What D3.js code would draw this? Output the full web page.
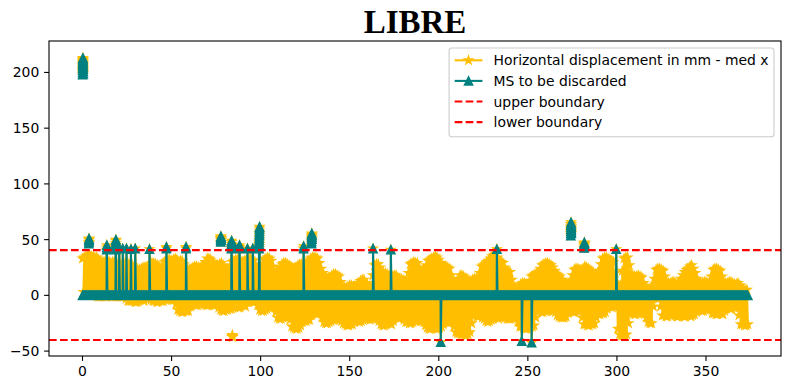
<!DOCTYPE html>
<html><head><meta charset="utf-8">
<script src="https://cdn.jsdelivr.net/npm/d3@7"></script>
<style>body{margin:0;background:#fff} svg{display:block}</style>
</head><body>
<svg id="chart" width="790" height="390"></svg>
<script>
// ---------------- data ----------------
const titleText = "LIBRE";
const seriesNames = ["Horizontal displacement in mm - med x", "MS to be discarded", "upper boundary", "lower boundary"];
const xTicks = [0, 50, 100, 150, 200, 250, 300, 350];
const yTicks = [-50, 0, 50, 100, 150, 200];
const yTickLabels = ["\u221250", "0", "50", "100", "150", "200"];
const upperBoundary = 40.6;
const lowerBoundary = -40.0;

// upper swings of the displacement signal, at x = 0, 1, 2, ... 373
const upperEnv = [
  33,34,35,36,36,35,35,34,34,32,31,30,30,31,31,30,29,30,30,29,
  28,28,27,28,29,29,28,28,27,25,24,23,23,24,25,25,24,26,28,29,
  29,28,27,25,22,26,30,31,32,32,31,32,33,32,30,31,31,28,24,23,
  23,24,25,26,26,25,25,26,27,30,33,33,32,30,28,27,27,28,29,27,
  24,23,23,26,30,31,32,32,31,30,30,31,32,33,33,32,31,28,24,24,
  25,28,32,33,34,33,31,26,21,21,22,25,28,29,29,28,27,25,24,24,
  25,27,28,28,27,28,29,31,33,34,34,34,33,29,24,20,17,16,15,16,
  18,19,19,18,17,12,8,7,7,8,9,9,8,8,9,11,13,14,14,11,
  9,8,8,18,27,28,28,25,21,20,20,19,18,17,17,18,18,16,15,14,
  14,13,13,20,28,29,30,29,29,25,22,22,23,27,31,32,33,34,35,34,
  32,29,27,26,26,25,24,18,13,12,12,15,18,18,17,15,14,13,13,14,
  15,15,14,20,26,27,28,30,31,33,35,36,37,34,31,30,29,25,22,21,
  21,14,8,7,6,8,10,11,11,10,10,13,17,18,19,20,20,24,27,28,
  29,29,28,27,25,22,19,18,17,14,12,11,11,11,12,18,23,24,24,23,
  22,24,26,25,24,22,21,20,19,20,22,28,33,34,34,33,32,31,30,20,
  10,9,9,22,33,34,34,27,19,18,17,17,18,17,16,11,7,6,6,7,
  8,15,23,24,24,23,22,17,12,11,11,12,12,11,10,12,15,18,21,23,
  24,26,27,24,20,15,12,11,11,12,12,11,10,17,23,24,24,23,22,17,
  12,11,11,12,12,11,10,10,11,9,6,5,5,5
];
// lower swings of the displacement signal, at x = 0.5, 1.5, ... 373.5
const lowerEnv = [
  3,3,3,3,2,1,0,0,-1,-1,-1,-1,-1,-1,0,0,-1,-1,-1,-1,
  -1,-1,-1,-1,-3,-5,-5,-5,-5,-6,-6,-5,-4,-4,-5,-3,-3,-3,-4,-5,
  -5,-6,-6,-5,-5,-5,-4,-4,-3,-3,-4,-4,-8,-13,-14,-15,-15,-14,-14,-14,
  -10,-8,-8,-9,-9,-8,-7,-7,-8,-9,-9,-8,-8,-9,-9,-8,-11,-13,-14,-14,
  -13,-13,-12,-12,-11,-10,-10,-11,-11,-9,-8,-10,-6,-5,-5,-6,-6,-5,-9,-13,
  -14,-14,-13,-12,-11,-11,-10,-10,-15,-20,-21,-21,-20,-19,-19,-20,-22,-28,-29,-30,
  -30,-29,-27,-24,-23,-23,-22,-22,-18,-16,-16,-17,-16,-15,-20,-24,-25,-25,-24,-23,
  -22,-22,-21,-21,-22,-23,-25,-26,-27,-27,-26,-26,-24,-23,-23,-24,-23,-22,-21,-21,
  -21,-22,-21,-21,-20,-20,-23,-26,-27,-27,-26,-25,-25,-26,-23,-20,-20,-21,-20,-19,
  -22,-24,-24,-25,-25,-24,-23,-23,-22,-22,-23,-24,-27,-29,-30,-30,-29,-29,-30,-30,
  -29,-28,-26,-24,-24,-25,-24,-23,-28,-33,-34,-34,-35,-35,-36,-36,-35,-33,-25,-18,
  -18,-19,-19,-18,-20,-21,-23,-24,-23,-22,-21,-20,-20,-21,-20,-19,-19,-20,-21,-21,
  -21,-20,-20,-20,-24,-28,-28,-29,-30,-30,-29,-28,-28,-27,-20,-14,-14,-15,-15,-14,
  -14,-13,-13,-14,-14,-15,-18,-19,-20,-20,-20,-19,-16,-14,-14,-15,-15,-14,-14,-13,
  -20,-26,-26,-27,-27,-26,-26,-25,-20,-17,-17,-16,-16,-15,-12,-10,-10,-11,-10,-9,
  -30,-35,-36,-36,-36,-35,-25,-16,-16,-17,-17,-16,-16,-15,-16,-17,-20,-24,-25,-25,
  -10,-2,-3,-3,-10,-18,-18,-19,-19,-18,-18,-17,-17,-19,-19,-18,-18,-19,-19,-18,
  -18,-19,-18,-17,-15,-13,-13,-14,-14,-13,-13,-12,-12,-16,-16,-17,-17,-16,-16,-17,
  -14,-11,-11,-12,-12,-11,-11,-10,-18,-26,-26,-27,-27,-26
];
// outlier runs joined to the signal
const spikeX = [13.6, 18.6, 20.6, 22.6, 24.7, 27.2, 29.6, 37.6, 47.1, 58.1, 83.6, 88.1, 92.6, 95.6, 99.1, 124.1, 163.1, 173.1, 201.1, 232.6, 246.6, 252.1, 299.6];
const spikeV = [
  [41,43,45],[41,43,45,47,49,50],[42],[42],[42],[41.5],[42],[41.5],[42,43.5],[42,43.5],
  [42,44,46,48,49],[42,43.5,45],[42],[42],[42,44,46,48,50,52,54,56,58,60,61.5],[42,44],
  [42],[41],[-42],[41.5],[-41],[-42.5],[41.5]
];
// isolated runs (separated from the signal by gaps)
const clusterX = [0.05, 3.6, 77.6, 128.6, 274.1, 281.6, 84.1];
const clusterV = [
  [198,200,202,204,206,208,210,212,213,211,209,207,205,203,201,199],
  [46.5,48,49.5,51,50,48],
  [48,49.5,51,52.5,53,51.5,50],
  [46.5,48.5,50.5,52.5,54.5,55.5,53.5,51],
  [53.5,55.5,57.5,59.5,61.5,63.5,65.5,64,62,60,58,56],
  [42.5,44,45.5,47,47.5,46],
  [-35.5,-36.5,-37.5,-37]
];

// ---------------- build ----------------
const W = 790, H = 390;
const L = 49, R = 781, T = 41, B = 356;
const svg = d3.select("#chart");
const x = d3.scaleLinear().domain([-18.8, 392.1]).range([L, R]);
const y = d3.scaleLinear().domain([-54.4, 228.2]).range([B, T]);

const YEL = "#FFBF00", TEAL = "#008080", RED = "#FF0000";
const MS = 4.17, MEW = 1.39, LW = 2.08;

const pts = [];
upperEnv.forEach((v, i) => pts.push({x: i, v, g: 0}));
lowerEnv.forEach((v, i) => pts.push({x: i + 0.5, v, g: 0}));
spikeX.forEach((sx, k) => spikeV[k].forEach((v, j) => pts.push({x: sx + 0.03 * j, v, g: 0})));
clusterX.forEach((cx, k) => clusterV[k].forEach((v, j) => pts.push({x: cx + 0.025 * j, v, g: k + 1})));
pts.sort((a, b) => a.x - b.x);
const seq = [];
let prevG = null;
pts.forEach(p => { if (prevG !== null && p.g !== prevG) seq.push(null); seq.push(p); prevG = p.g; });
const discarded = v => (v > upperBoundary || v < lowerBoundary);

function starPath(cx, cy, r0) {
  const ri = r0 * 0.381966; let d = "";
  for (let k = 0; k < 10; k++) {
    const a = -Math.PI / 2 + k * Math.PI / 5, rr = k % 2 === 0 ? r0 : ri;
    d += (k ? "L" : "M") + (cx + rr * Math.cos(a)).toFixed(2) + "," + (cy + rr * Math.sin(a)).toFixed(2);
  }
  return d + "Z";
}
function triPath(cx, cy, r0) {
  return `M${cx.toFixed(2)},${(cy - r0).toFixed(2)}L${(cx - r0).toFixed(2)},${(cy + r0).toFixed(2)}L${(cx + r0).toFixed(2)},${(cy + r0).toFixed(2)}Z`;
}

svg.append("rect").attr("width", W).attr("height", H).attr("fill", "#fff");
svg.append("defs").append("clipPath").attr("id", "clip")
  .append("rect").attr("x", L).attr("y", T).attr("width", R - L).attr("height", B - T);
const plot = svg.append("g").attr("clip-path", "url(#clip)");

const lineY = d3.line().defined(d => d !== null).x(d => x(d.x)).y(d => y(d.v));
const lineT = d3.line().defined(d => d !== null).x(d => x(d.x)).y(d => y(discarded(d.v) ? d.v : 0));

// yellow series
plot.append("path").attr("d", lineY(seq)).attr("fill", "none").attr("stroke", YEL)
  .attr("stroke-width", LW).attr("stroke-linejoin", "round");
plot.append("path").attr("d", pts.map(p => starPath(x(p.x), y(p.v), MS)).join(""))
  .attr("fill", YEL).attr("stroke", YEL).attr("stroke-width", MEW);
// teal series
plot.append("path").attr("d", lineT(seq)).attr("fill", "none").attr("stroke", TEAL)
  .attr("stroke-width", LW).attr("stroke-linejoin", "round");
plot.append("path").attr("d", pts.map(p => triPath(x(p.x), y(discarded(p.v) ? p.v : 0), MS)).join(""))
  .attr("fill", TEAL).attr("stroke", TEAL).attr("stroke-width", MEW);
// boundaries
[upperBoundary, lowerBoundary].forEach(b => {
  plot.append("line").attr("x1", L).attr("x2", R).attr("y1", y(b)).attr("y2", y(b))
    .attr("stroke", RED).attr("stroke-width", LW).attr("stroke-dasharray", "7.7,3.3");
});

// axes
const ax = svg.append("g");
ax.append("rect").attr("x", L).attr("y", T).attr("width", R - L).attr("height", B - T)
  .attr("fill", "none").attr("stroke", "#000").attr("stroke-width", 1.1);
xTicks.forEach(t => {
  ax.append("line").attr("x1", x(t)).attr("x2", x(t)).attr("y1", B).attr("y2", B + 4.9)
    .attr("stroke", "#000").attr("stroke-width", 1.1);
  ax.append("text").attr("x", x(t)).attr("y", B + 20).attr("text-anchor", "middle")
    .attr("font-family", "DejaVu Sans").attr("font-size", 13.9).text(String(t));
});
yTicks.forEach((t, i) => {
  ax.append("line").attr("x1", L - 4.9).attr("x2", L).attr("y1", y(t)).attr("y2", y(t))
    .attr("stroke", "#000").attr("stroke-width", 1.1);
  ax.append("text").attr("x", L - 9.7).attr("y", y(t) + 5).attr("text-anchor", "end")
    .attr("font-family", "DejaVu Sans").attr("font-size", 13.9).text(yTickLabels[i]);
});

// title
svg.append("text").attr("x", (L + R) / 2).attr("y", 32.7).attr("text-anchor", "middle")
  .attr("font-family", "Liberation Serif, Times New Roman, serif").attr("font-weight", "bold")
  .attr("font-size", 33).text(titleText);

// legend
const lg = svg.append("g");
const fs = 13.9, pad = 5.56, hl = 27.8, htp = 11.1, pitch = 20.6;
const texts = seriesNames.map(s => lg.append("text").attr("font-family", "DejaVu Sans").attr("font-size", fs).text(s));
const tw = d3.max(texts, t => t.node().getComputedTextLength());
const boxR = R - 7, boxT = T + 7;
const boxW = pad + hl + htp + tw + pad;
const boxL = boxR - boxW;
const boxH = 88.7;
lg.insert("rect", "text").attr("x", boxL).attr("y", boxT).attr("width", boxW).attr("height", boxH)
  .attr("rx", 2.8).attr("fill", "#fff").attr("fill-opacity", 0.8).attr("stroke", "#cccccc").attr("stroke-width", 1.1);
texts.forEach((t, i) => {
  const cy = boxT + 12.3 + i * pitch;
  t.attr("x", boxL + pad + hl + htp).attr("y", cy + 5).attr("fill", "#000");
  const hx0 = boxL + pad, hx1 = hx0 + hl, hc = (hx0 + hx1) / 2;
  if (i === 0) {
    lg.append("line").attr("x1", hx0).attr("x2", hx1).attr("y1", cy).attr("y2", cy).attr("stroke", YEL).attr("stroke-width", LW);
    lg.append("path").attr("d", starPath(hc, cy, MS)).attr("fill", YEL).attr("stroke", YEL).attr("stroke-width", MEW);
  } else if (i === 1) {
    lg.append("line").attr("x1", hx0).attr("x2", hx1).attr("y1", cy).attr("y2", cy).attr("stroke", TEAL).attr("stroke-width", LW);
    lg.append("path").attr("d", triPath(hc, cy, MS)).attr("fill", TEAL).attr("stroke", TEAL).attr("stroke-width", MEW);
  } else {
    lg.append("line").attr("x1", hx0).attr("x2", hx1).attr("y1", cy).attr("y2", cy).attr("stroke", RED)
      .attr("stroke-width", LW).attr("stroke-dasharray", "7.7,3.3");
  }
});
</script>
</body></html>
